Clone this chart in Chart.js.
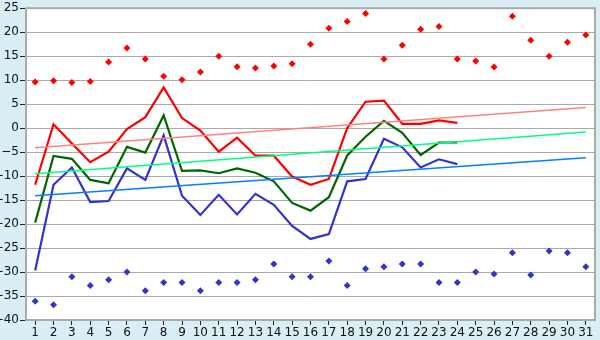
<!DOCTYPE html>
<html>
<head>
<meta charset="utf-8">
<script src="https://cdn.jsdelivr.net/npm/chart.js@4/dist/chart.umd.min.js"></script>
<style>
  html, body { margin: 0; padding: 0; background: #daeef5; }
  #wrap { width: 600px; height: 340px; }
</style>
</head>
<body>
<div id="wrap"><canvas id="tempChart" width="600" height="340"></canvas></div>
<script>
// Days of the month
const days = ['1','2','3','4','5','6','7','8','9','10','11','12','13','14','15','16',
              '17','18','19','20','21','22','23','24','25','26','27','28','29','30','31'];

// Daily highs, means and lows so far this month
const dailyMax  = [-11.8, 0.8, -3.2, -7.1, -4.9, -0.2, 2.3, 8.5, 2.1, -0.5, -4.9, -2.0, -5.75, -5.75,
                   -10.1, -11.8, -10.6, 0.0, 5.5, 5.75, 0.9, 0.9, 1.6, 1.1];
const dailyMean = [-19.7, -5.8, -6.4, -10.8, -11.5, -3.9, -5.1, 2.65, -8.9, -8.8, -9.4, -8.4, -9.3, -11.1,
                   -15.6, -17.2, -14.4, -5.7, -1.8, 1.5, -1.0, -5.6, -3.0, -3.0];
const dailyMin  = [-29.7, -11.8, -8.2, -15.4, -15.2, -8.4, -10.8, -1.5, -14.1, -18.1, -13.9, -18.0, -13.7, -16.0,
                   -20.4, -23.1, -22.1, -11.1, -10.6, -2.2, -4.0, -8.2, -6.5, -7.5];

// Record high / low for each calendar day
const recordHigh = [9.6, 9.9, 9.5, 9.7, 13.8, 16.7, 14.4, 10.8, 10.1, 11.7, 15.0, 12.8, 12.55, 12.97, 13.4, 17.5,
                    20.8, 22.25, 23.9, 14.4, 17.3, 20.6, 21.2, 14.4, 14.0, 12.75, 23.3, 18.3, 15.0, 17.9, 19.4];
const recordLow  = [-36.1, -36.8, -31.0, -32.8, -31.6, -30.0, -33.9, -32.2, -32.2, -33.9, -32.2, -32.2, -31.6, -28.3,
                    -31.0, -31.0, -27.7, -32.8, -29.3, -28.9, -28.3, -28.3, -32.2, -32.2, -30.0, -30.4, -26.0,
                    -30.6, -25.6, -26.0, -28.9];

// Normal trend lines: value on the 1st and on the 31st
const normalMax  = [-4.1, 4.3];
const normalMean = [-9.5, -0.8];
const normalMin  = [-14.1, -6.2];

const yTicks = [25, 20, 15, 10, 5, 0, -5, -10, -15, -20, -25, -30, -35, -40];

// spread a first/last pair across the month, gaps in between
function endpoints(pair) {
    const arr = days.map(() => null);
    arr[0] = pair[0];
    arr[days.length - 1] = pair[1];
    return arr;
}

function trendSet(pair, color) {
    return {
        data: endpoints(pair), borderColor: color, borderWidth: 1.5,
        pointRadius: 0, spanGaps: true, fill: false
    };
}
function lineSet(values, color) {
    return {
        data: values, borderColor: color, borderWidth: 2.2,
        pointRadius: 0, fill: false, tension: 0
    };
}
function recordSet(values, color) {
    return {
        data: values, showLine: false, pointStyle: 'rectRot',
        pointRadius: 3.5, pointBackgroundColor: color, pointBorderColor: color, pointBorderWidth: 0
    };
}

// grey frame around the plot area
const plotFrame = {
    id: 'plotFrame',
    afterDatasetsDraw(chart) {
        const a = chart.chartArea;
        const c = chart.ctx;
        c.save();
        c.strokeStyle = '#aaaaaa';
        c.lineWidth = 2;
        c.strokeRect(a.left, a.top, a.right - a.left, a.bottom - a.top);
        c.restore();
    }
};
const plotBg = {
    id: 'plotBg',
    beforeDraw(chart) {
        const a = chart.chartArea;
        chart.ctx.save();
        chart.ctx.fillStyle = '#ffffff';
        chart.ctx.fillRect(a.left, a.top, a.right - a.left, a.bottom - a.top);
        chart.ctx.restore();
    }
};

Chart.defaults.font.family = '"DejaVu Sans", Verdana, sans-serif';
Chart.defaults.font.size = 12;
Chart.defaults.color = '#111111';

new Chart(document.getElementById('tempChart').getContext('2d'), {
    type: 'line',
    data: {
        labels: days,
        datasets: [
            trendSet(normalMax, '#ff8080'),
            trendSet(normalMean, '#00ff80'),
            trendSet(normalMin, '#0080ff'),
            lineSet(dailyMin, '#3333cc'),
            lineSet(dailyMean, '#006600'),
            lineSet(dailyMax, '#ff0000'),
            recordSet(recordHigh, '#ff0000'),
            recordSet(recordLow, '#3333cc')
        ]
    },
    options: {
        responsive: false,
        animation: false,
        layout: { padding: { top: 5, right: 5, left: 0, bottom: 0 } },
        plugins: { legend: { display: false }, tooltip: { enabled: false } },
        scales: {
            x: {
                offset: true,
                grid: { offset: false, drawOnChartArea: false, drawTicks: true, tickLength: 5, color: '#222222' },
                border: { display: false },
                ticks: { padding: 1, maxRotation: 0, autoSkip: false },
                afterFit: (s) => { s.height = 20; }
            },
            y: {
                min: -40, max: 25,
                afterBuildTicks: (s) => { s.ticks = yTicks.map(v => ({ value: v })); },
                grid: { color: '#aaaaaa', lineWidth: 1, drawTicks: true, tickLength: 6, tickColor: '#222222' },
                border: { display: false },
                ticks: { padding: 1, callback: (v) => String(v).replace('-', '\u2212') },
                afterFit: (s) => { s.width = 26; }
            }
        }
    },
    plugins: [plotBg, plotFrame]
});
</script>
</body>
</html>
